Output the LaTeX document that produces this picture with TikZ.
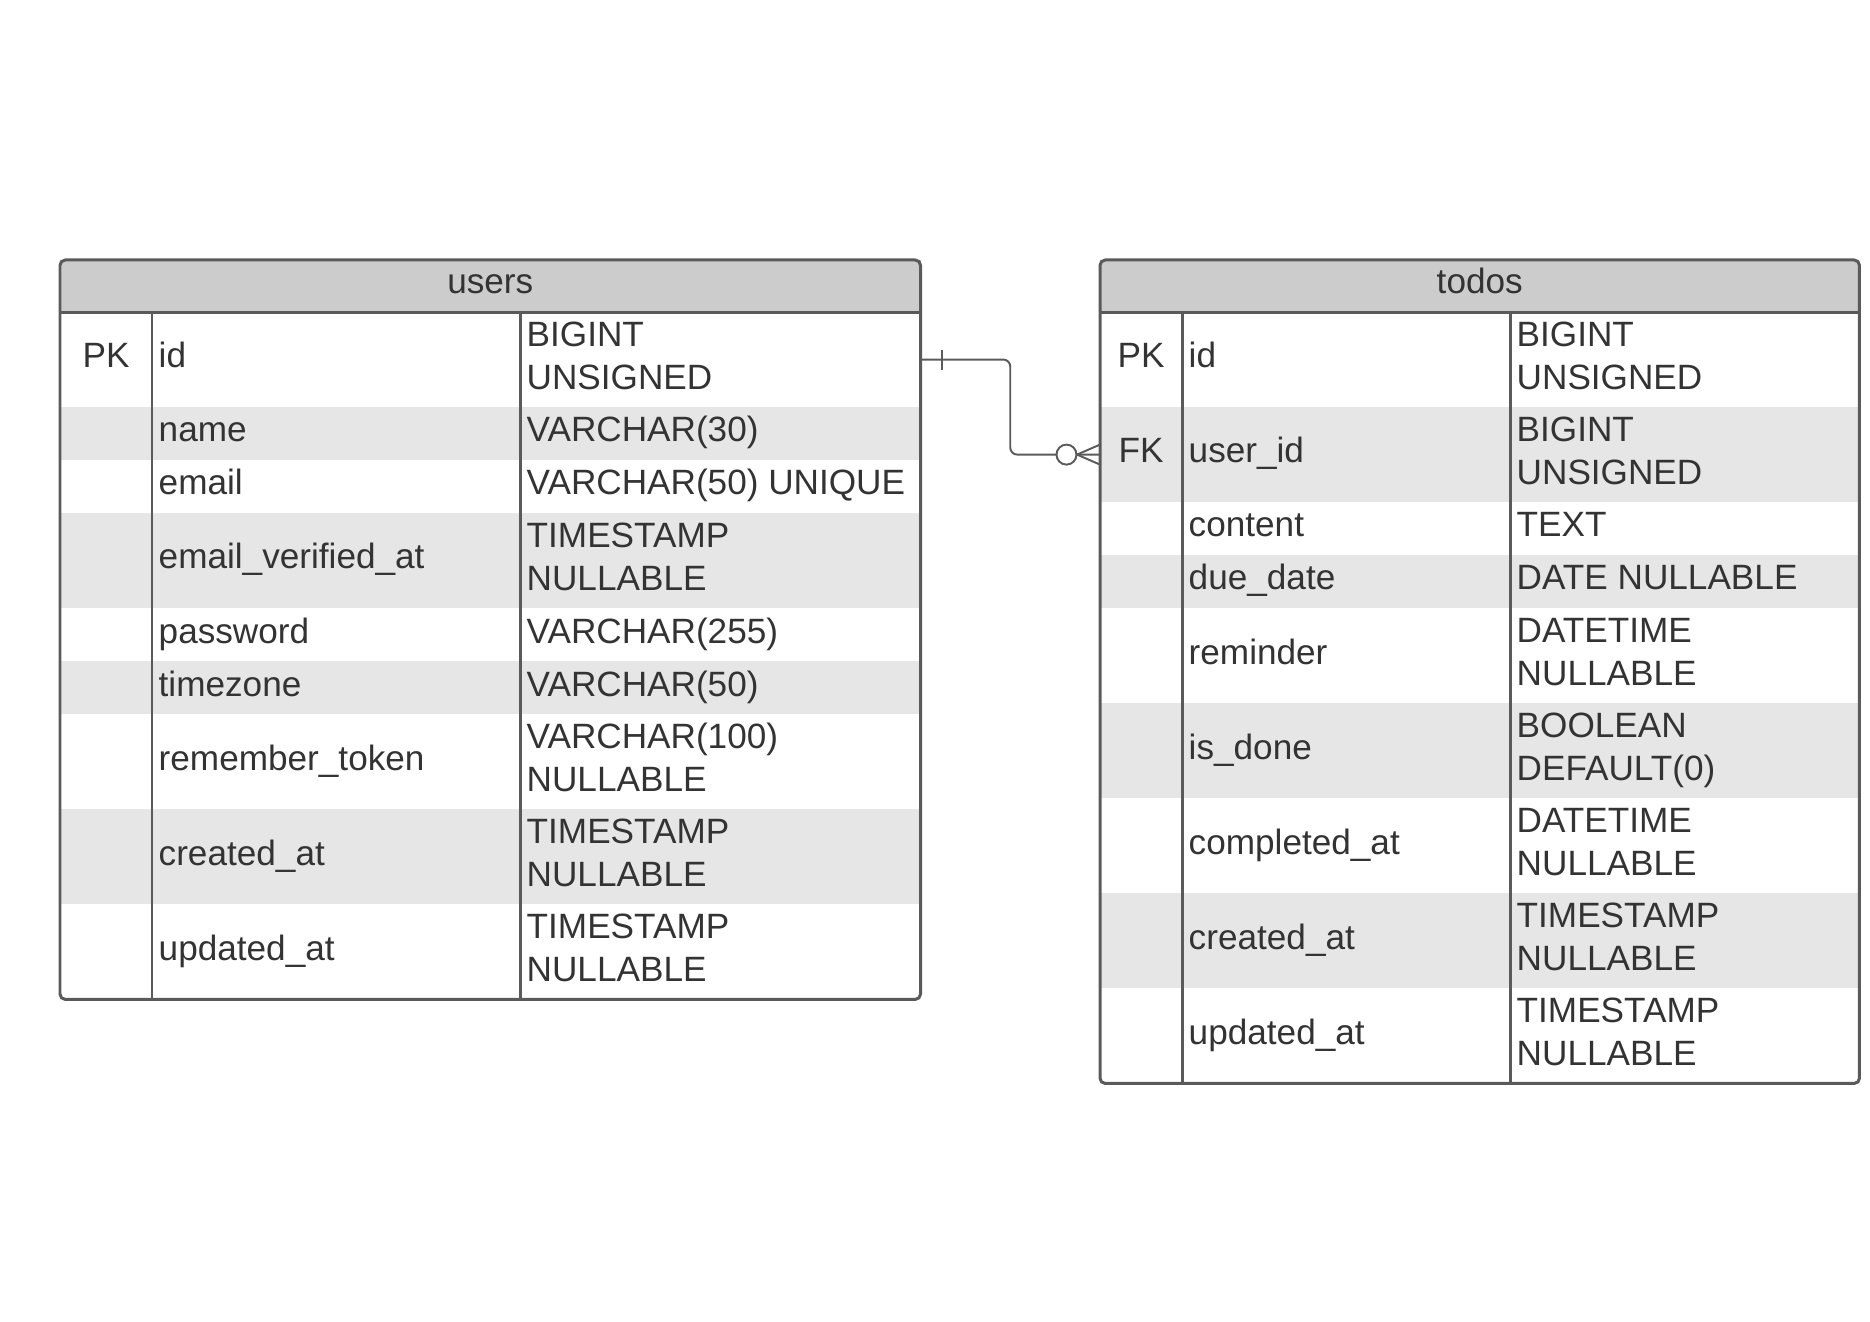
\documentclass[tikz,border=0pt]{standalone}
\usepackage{fontspec}
\setmainfont{Liberation Sans}
\usetikzlibrary{calc}
\definecolor{erline}{HTML}{5A5A5A}
\definecolor{erhead}{HTML}{CCCCCC}
\definecolor{errow}{HTML}{E6E6E6}
\definecolor{ertext}{HTML}{333333}
\begin{document}
\begin{tikzpicture}[x=0.01cm, y=-0.01cm,
	every node/.style={font=\fontsize{10}{12.2}\selectfont},
	headbox/.style={rectangle, fill=erhead, inner sep=0pt, outer sep=0pt, anchor=north west,
		minimum height=0.52cm, text=ertext, text height=7.2pt, text depth=3pt},
	rowbox/.style={rectangle, inner sep=0pt, outer sep=0pt, anchor=north west},
	urow/.style={rowbox, minimum width=8.6cm},
	trow/.style={rowbox, minimum width=7.59cm},
	sgl/.style={minimum height=0.53cm},
	dbl/.style={minimum height=0.95cm},
	shaded/.style={fill=errow},
	keytxt/.style={anchor=base, inner sep=0pt, text=ertext},
	celltxt/.style={anchor=base west, inner sep=0pt, align=left, text=ertext},
	frame/.style={draw=erline, line width=0.85pt},
	relline/.style={draw=erline, line width=0.55pt}]
	
	\useasboundingbox (0,0) rectangle (1870,1322);
	
	%Table users
	\node (usersHead) [headbox, minimum width=8.6cm] at (60,260) {users};
	\node (usersId) [urow, dbl] at (usersHead.south west) {};
	\node (usersName) [urow, sgl, shaded] at (usersId.south west) {};
	\node (usersEmail) [urow, sgl] at (usersName.south west) {};
	\node (usersVerified) [urow, dbl, shaded] at (usersEmail.south west) {};
	\node (usersPassword) [urow, sgl] at (usersVerified.south west) {};
	\node (usersZone) [urow, sgl, shaded] at (usersPassword.south west) {};
	\node (usersToken) [urow, dbl] at (usersZone.south west) {};
	\node (usersCreated) [urow, dbl, shaded] at (usersToken.south west) {};
	\node (usersUpdated) [urow, dbl] at (usersCreated.south west) {};
	
	\node (usersIdKey) [keytxt] at (106,368) {PK};
	\node (usersIdName) [celltxt] at (158,368) {id};
	\node (usersIdType) [celltxt] at (526,389.5) {BIGINT\\UNSIGNED};
	\node (usersNameName) [celltxt] at (158,442) {name};
	\node (usersNameType) [celltxt] at (526,442) {VARCHAR(30)};
	\node (usersEmailName) [celltxt] at (158,495) {email};
	\node (usersEmailType) [celltxt] at (526,495) {VARCHAR(50) UNIQUE};
	\node (usersVerifiedName) [celltxt] at (158,569) {email\_verified\_at};
	\node (usersVerifiedType) [celltxt] at (526,590.5) {TIMESTAMP\\NULLABLE};
	\node (usersPasswordName) [celltxt] at (158,643) {password};
	\node (usersPasswordType) [celltxt] at (526,643) {VARCHAR(255)};
	\node (usersZoneName) [celltxt] at (158,696) {timezone};
	\node (usersZoneType) [celltxt] at (526,696) {VARCHAR(50)};
	\node (usersTokenName) [celltxt] at (158,770) {remember\_token};
	\node (usersTokenType) [celltxt] at (526,791.5) {VARCHAR(100)\\NULLABLE};
	\node (usersCreatedName) [celltxt] at (158,865) {created\_at};
	\node (usersCreatedType) [celltxt] at (526,886.5) {TIMESTAMP\\NULLABLE};
	\node (usersUpdatedName) [celltxt] at (158,960) {updated\_at};
	\node (usersUpdatedType) [celltxt] at (526,981.5) {TIMESTAMP\\NULLABLE};
	
	\draw[frame] (usersHead.south west) -- (usersHead.south east);
	\draw[frame] (152,312) -- (152,999);
	\draw[frame] (520,312) -- (520,999);
	\draw[frame, rounded corners=1.5pt] (usersHead.north west) rectangle (usersUpdated.south east);
	
	%Table todos
	\node (todosHead) [headbox, minimum width=7.59cm] at (1100,260) {todos};
	\node (todosId) [trow, dbl] at (todosHead.south west) {};
	\node (todosUser) [trow, dbl, shaded] at (todosId.south west) {};
	\node (todosContent) [trow, sgl] at (todosUser.south west) {};
	\node (todosDue) [trow, sgl, shaded] at (todosContent.south west) {};
	\node (todosReminder) [trow, dbl] at (todosDue.south west) {};
	\node (todosDone) [trow, dbl, shaded] at (todosReminder.south west) {};
	\node (todosCompleted) [trow, dbl] at (todosDone.south west) {};
	\node (todosCreated) [trow, dbl, shaded] at (todosCompleted.south west) {};
	\node (todosUpdated) [trow, dbl] at (todosCreated.south west) {};
	
	\node (todosIdKey) [keytxt] at (1141,368) {PK};
	\node (todosIdName) [celltxt] at (1188,368) {id};
	\node (todosIdType) [celltxt] at (1516,389.5) {BIGINT\\UNSIGNED};
	\node (todosUserKey) [keytxt] at (1141,463) {FK};
	\node (todosUserName) [celltxt] at (1188,463) {user\_id};
	\node (todosUserType) [celltxt] at (1516,484.5) {BIGINT\\UNSIGNED};
	\node (todosContentName) [celltxt] at (1188,537) {content};
	\node (todosContentType) [celltxt] at (1516,537) {TEXT};
	\node (todosDueName) [celltxt] at (1188,590) {due\_date};
	\node (todosDueType) [celltxt] at (1516,590) {DATE NULLABLE};
	\node (todosReminderName) [celltxt] at (1188,664) {reminder};
	\node (todosReminderType) [celltxt] at (1516,685.5) {DATETIME\\NULLABLE};
	\node (todosDoneName) [celltxt] at (1188,759) {is\_done};
	\node (todosDoneType) [celltxt] at (1516,780.5) {BOOLEAN\\DEFAULT(0)};
	\node (todosCompletedName) [celltxt] at (1188,854) {completed\_at};
	\node (todosCompletedType) [celltxt] at (1516,875.5) {DATETIME\\NULLABLE};
	\node (todosCreatedName) [celltxt] at (1188,949) {created\_at};
	\node (todosCreatedType) [celltxt] at (1516,970.5) {TIMESTAMP\\NULLABLE};
	\node (todosUpdatedName) [celltxt] at (1188,1044) {updated\_at};
	\node (todosUpdatedType) [celltxt] at (1516,1065.5) {TIMESTAMP\\NULLABLE};
	
	\draw[frame] (todosHead.south west) -- (todosHead.south east);
	\draw[frame] (1182,312) -- (1182,1083);
	\draw[frame] (1510,312) -- (1510,1083);
	\draw[frame, rounded corners=1.5pt] (todosHead.north west) rectangle (todosUpdated.south east);
	
	%Relation
	\draw[relline, rounded corners=2pt] (usersId.east) -| ($(usersId.east)!0.5!(todosUser.west)$) |- (todosUser.west);
	\draw[relline] ([xshift=0.215cm, yshift=0.1cm]usersId.east) -- ([xshift=0.215cm, yshift=-0.1cm]usersId.east);
	\draw[relline, fill=white] ([xshift=-0.335cm]todosUser.west) circle (0.1cm);
	\draw[relline] ([xshift=-0.23cm]todosUser.west) -- ([yshift=0.1cm]todosUser.west);
	\draw[relline] ([xshift=-0.23cm]todosUser.west) -- ([yshift=-0.1cm]todosUser.west);
	
\end{tikzpicture}
\end{document}
